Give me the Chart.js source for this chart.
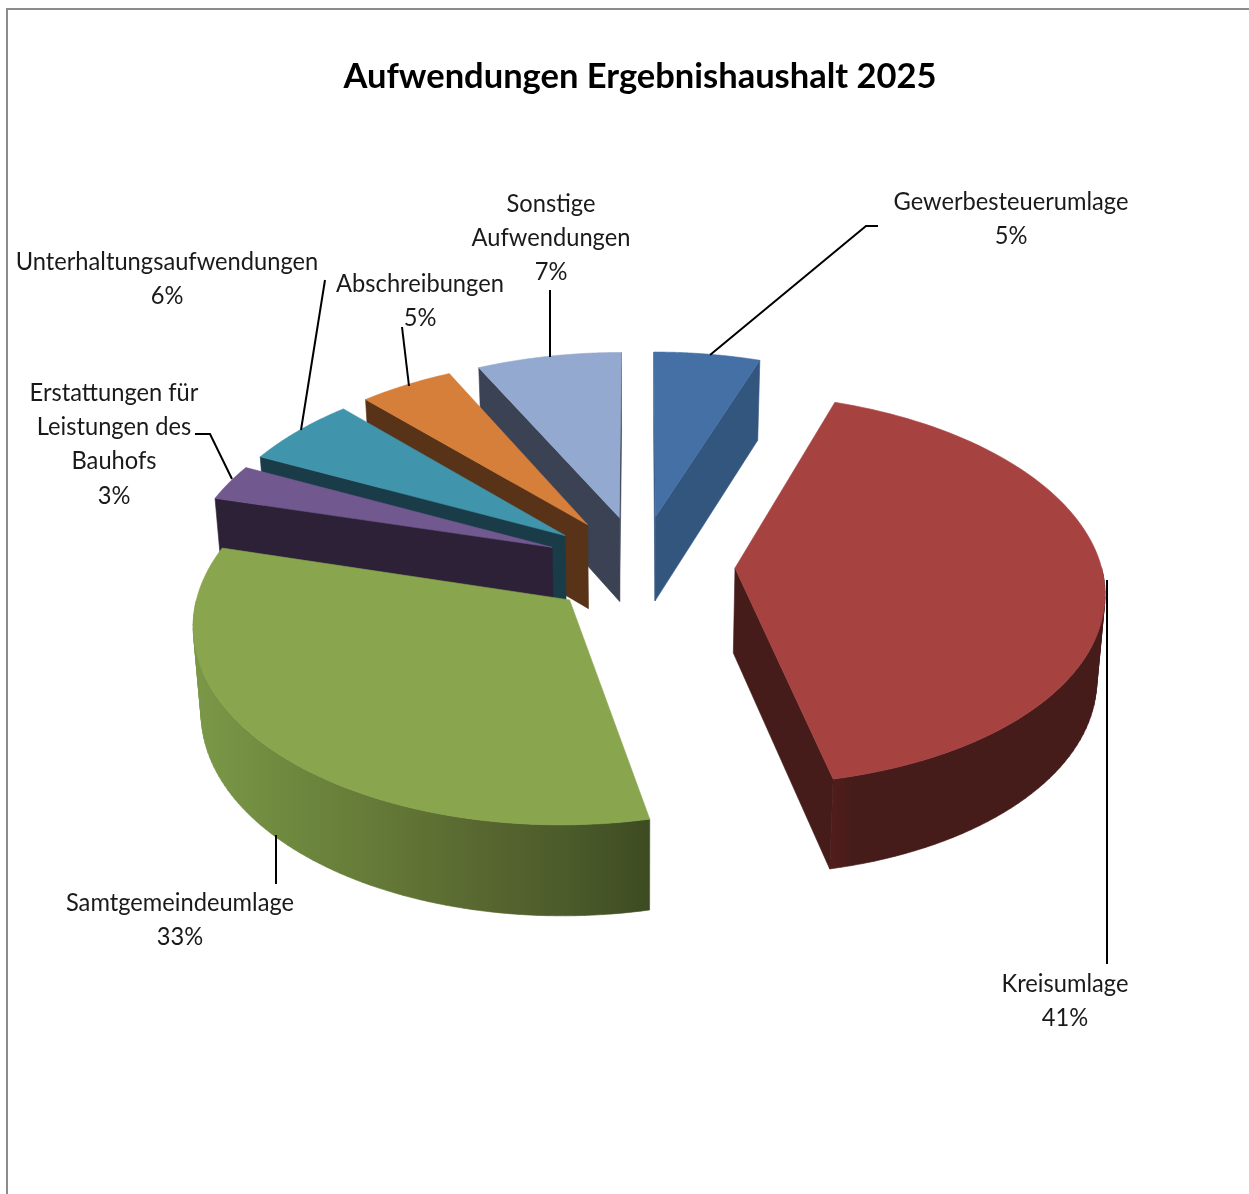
<!DOCTYPE html>
<html>
<head>
<meta charset="utf-8">
<title>Aufwendungen Ergebnishaushalt 2025</title>
<script src="https://cdn.jsdelivr.net/npm/chart.js@4"></script>
<style>
  html, body { margin: 0; background: #fff; overflow: hidden; }
  #frame { position: absolute; left: 6px; top: 8px; width: 1300px; height: 1300px; border: 2px solid #8c8c8c; }
  canvas { position: absolute; left: 0; top: 0; }
</style>
</head>
<body>
<div id="frame"></div>
<canvas id="pie" width="1249" height="1194"></canvas>
<script>
var categories = ['Gewerbesteuerumlage', 'Kreisumlage', 'Samtgemeindeumlage', 'Erstattungen für Leistungen des Bauhofs', 'Unterhaltungsaufwendungen', 'Abschreibungen', 'Sonstige Aufwendungen'];
var shares = [5.3, 41.3, 32.7, 3.0, 5.8, 4.7, 7.2];
var shareLabels = ['5%', '41%', '33%', '3%', '6%', '5%', '7%'];

var topColors = ['#4570a6', '#a64341', '#89a54e', '#71588f', '#4095ad', '#d67f3b', '#93a9cf'];
var wallColors = ['#33567f', '#461c1a', '#6b8439', '#2c2137', '#1a3c48', '#593317', '#3a4254'];
var greenWall = ['#7b9847', '#718c40', '#687f3a', '#5f7234', '#56642f', '#4a5a29', '#3e4b22'];

// label lines and where they sit, same order as categories
var labelLines = [
  ['Gewerbesteuerumlage'],
  ['Kreisumlage'],
  ['Samtgemeindeumlage'],
  ['Erstattungen für', 'Leistungen des', 'Bauhofs'],
  ['Unterhaltungsaufwendungen'],
  ['Abschreibungen'],
  ['Sonstige', 'Aufwendungen']
];
var labelX = [1011, 1065, 180, 114, 167, 420, 551];
var labelY = [202, 984, 903, 393, 262, 284, 204];
var leaders = [
  [[878, 226], [866, 226], [710, 355]],
  [[1107, 580], [1107, 964]],
  [[276, 835], [276, 884]],
  [[195, 434], [210, 434], [232, 479]],
  [[325, 280], [301, 430]],
  [[402, 327], [409, 386]],
  [[550, 290], [550, 357]]
];

// view of the tilted disc
var tilt = 0.526, persp = 0.108, shrink = 0.018, depth = 85;

function project(arc, X, Y, z) {
  var R = arc.outerRadius;
  var w = 1 + persp * Y / R;
  var zs = 1 + shrink * z;
  return { x: arc.x + X / (w * zs), y: arc.y - tilt * Y / w + z * depth / Math.sqrt(w) };
}

function rimPoint(arc, ang, z) {
  var mid = (arc.startAngle + arc.endAngle) / 2;
  var d = arc.options.offset;
  var X = d * Math.cos(mid) + arc.outerRadius * Math.cos(ang);
  var Y = -d * Math.sin(mid) - arc.outerRadius * Math.sin(ang);
  return project(arc, X, Y, z);
}

function apexPoint(arc, z) {
  var mid = (arc.startAngle + arc.endAngle) / 2;
  var d = arc.options.offset;
  return project(arc, d * Math.cos(mid), -d * Math.sin(mid), z);
}

function signedArea(pts) {
  var sum = 0;
  pts.forEach(function (p, i) {
    var q = pts[(i + 1) % pts.length];
    sum += p.x * q.y - q.x * p.y;
  });
  return sum;
}

function fillPolys(ctx, polys, fill) {
  ctx.beginPath();
  polys.forEach(function (pts) {
    // same winding for all, or the folds of the rim cancel out and leave slits
    var ring = signedArea(pts) < 0 ? pts.slice().reverse() : pts;
    ring.forEach(function (p, i) { i ? ctx.lineTo(p.x, p.y) : ctx.moveTo(p.x, p.y); });
    ctx.closePath();
  });
  ctx.fillStyle = fill;
  ctx.strokeStyle = fill;
  ctx.lineWidth = 0.6;
  ctx.fill();
  ctx.stroke();
}

// a cut face shows only when the slice lies above the cut on screen
function faceVisible(a, r, other) {
  var dx = r.x - a.x;
  if (Math.abs(dx) < 0.5) return false;
  var yOnLine = a.y + (other.x - a.x) * (r.y - a.y) / dx;
  return other.y < yOnLine;
}

function wallFill(ctx, index, pts) {
  if (index !== 1 && index !== 2) return wallColors[index];
  var xs = pts.map(function (p) { return p.x; });
  var g = ctx.createLinearGradient(Math.min.apply(null, xs), 0, Math.max.apply(null, xs), 0);
  if (index === 1) {
    g.addColorStop(0, '#521d1b');
    g.addColorStop(0.08, '#461c1a');
    g.addColorStop(1, '#461c1a');
    return g;
  }
  greenWall.forEach(function (c, i) { g.addColorStop(i / (greenWall.length - 1), c); });
  return g;
}

function drawSlice(ctx, arc, index) {
  var steps = 90, top = [], s, ang;
  var a0 = arc.startAngle, a1 = arc.endAngle;
  var apex = apexPoint(arc, 0), apexLow = apexPoint(arc, 1);

  // outer wall, front part of the rim only. one path of quads so there are no seams
  var rimTop = [], rimLow = [];
  for (s = 0; s <= steps; s++) {
    ang = a0 + (a1 - a0) * s / steps;
    top.push(rimPoint(arc, ang, 0));
    if (Math.sin(ang) > -0.01) {
      rimTop.push(rimPoint(arc, ang, 0));
      rimLow.push(rimPoint(arc, ang, 1));
    }
  }
  if (rimTop.length > 1) {
    var quads = [];
    for (s = 0; s < rimTop.length - 1; s++) {
      quads.push([rimTop[s], rimTop[s + 1], rimLow[s + 1], rimLow[s]]);
    }
    fillPolys(ctx, quads, wallFill(ctx, index, rimTop.concat(rimLow)));
  }

  // cut faces
  var first = top[0], last = top[top.length - 1];
  if (faceVisible(apex, first, last)) {
    fillPolys(ctx, [[apex, first, rimPoint(arc, a0, 1), apexLow]], wallColors[index]);
  }
  if (faceVisible(apex, last, first)) {
    fillPolys(ctx, [[apex, last, rimPoint(arc, a1, 1), apexLow]], wallColors[index]);
  }

  fillPolys(ctx, [[apex].concat(top)], arc.options.backgroundColor);
}

var tiltedPie = {
  id: 'tiltedPie',
  beforeDatasetsDraw: function (chart) {
    var ctx = chart.ctx;
    var arcs = chart.getDatasetMeta(0).data.map(function (arc, i) { return { arc: arc, i: i }; });
    // far slices first
    arcs.sort(function (a, b) {
      return Math.sin((a.arc.startAngle + a.arc.endAngle) / 2) - Math.sin((b.arc.startAngle + b.arc.endAngle) / 2);
    });
    ctx.save();
    arcs.forEach(function (o) { drawSlice(ctx, o.arc, o.i); });
    ctx.restore();
    return false;
  },
  afterDraw: function (chart) {
    var ctx = chart.ctx;
    ctx.save();
    ctx.strokeStyle = '#000';
    ctx.lineWidth = 2;
    leaders.forEach(function (line) {
      ctx.beginPath();
      line.forEach(function (p, i) { i ? ctx.lineTo(p[0], p[1]) : ctx.moveTo(p[0], p[1]); });
      ctx.stroke();
    });
    ctx.fillStyle = '#1a1a1a';
    ctx.font = '25px Lato';
    ctx.textAlign = 'center';
    ctx.textBaseline = 'middle';
    labelLines.forEach(function (lines, i) {
      lines.concat(shareLabels[i]).forEach(function (txt, n) {
        // the reference text is a little narrower than Lato
        ctx.save();
        ctx.translate(labelX[i], labelY[i] + n * 34.2);
        ctx.scale(0.947, 1);
        ctx.fillText(txt, 0, 0);
        ctx.restore();
      });
    });
    ctx.restore();
  }
};

new Chart(document.getElementById('pie').getContext('2d'), {
  type: 'pie',
  data: {
    labels: categories,
    datasets: [{
      data: shares,
      backgroundColor: topColors,
      borderWidth: 0,
      offset: 95,
      radius: 366
    }]
  },
  options: {
    responsive: false,
    animation: false,
    events: [],
    layout: { padding: { left: 31, bottom: 172.5 } },
    plugins: {
      legend: { display: false },
      tooltip: { enabled: false },
      title: {
        display: true,
        text: 'Aufwendungen Ergebnishaushalt 2025',
        color: '#000',
        font: { family: 'Lato', size: 34.5, weight: 'bold' },
        padding: { top: 56, bottom: 11 }
      }
    }
  },
  plugins: [tiltedPie]
});
</script>
</body>
</html>
